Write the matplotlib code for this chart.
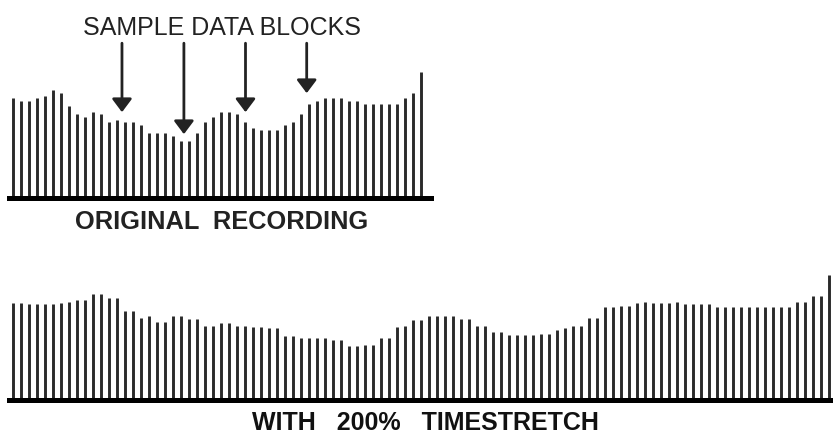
import numpy as np
import matplotlib.pyplot as plt

# bar heights (pixels above the baseline)
original_heights = [100, 97, 97, 100, 102.5, 108, 105, 92, 84, 81,
                    86.5, 84, 76, 78.5, 76, 76, 73, 65, 65, 65,
                    62.5, 57, 57, 65, 76, 81, 86.5, 86.5, 84, 76,
                    70.5, 68, 68, 68, 73, 76, 84, 94.5, 97, 100,
                    100, 100, 97, 97, 94.5, 94.5, 94.5, 94.5, 94.5, 100,
                    105, 126.5]

stretched_heights = [97.3, 97.3, 96, 96, 96, 96, 97.3, 98.6, 100, 100,
                     106.6, 106.6, 102.6, 102.6, 89.3, 89.3, 82.6, 84, 78.6, 78.6,
                     84.6, 84.6, 81.3, 81.3, 74.6, 74.6, 77.3, 77.3, 74.6, 74.6,
                     73.3, 73.3, 72, 72, 64, 64, 62, 62, 62, 62,
                     60, 60, 54, 54, 55.3, 55.3, 62, 62, 73.3, 74.6,
                     80, 80, 84, 84, 84, 84, 81.3, 81.3, 74.6, 74.6,
                     68, 68, 65.3, 65.3, 65.3, 65.3, 66, 66, 70.6, 72,
                     74.6, 74.6, 82.6, 82.6, 93.3, 93.3, 94.6, 94.6, 97.3, 98.6,
                     97.3, 97.3, 97.3, 98.6, 96, 96, 96, 96, 93.3, 93.3,
                     93.3, 93.3, 93.3, 93.3, 93.3, 93.3, 93.3, 93.3, 98.6, 98.6,
                     104, 104, 125.3]

# arrows: bar position (index units), tip height, tail height
arrow_x = [13.66, 21.4, 29.1, 36.75]
arrow_tip = [86, 64, 86, 105]
arrow_tail = 155

title_text = 'SAMPLE DATA BLOCKS'
top_label = 'ORIGINAL  RECORDING'
bottom_label = 'WITH   200%   TIMESTRETCH'

W, H = 833, 435
BAR_COLOR = '#2a2a2a'

plt.rcParams['font.family'] = ['Liberation Sans', 'DejaVu Sans']

fig = plt.figure(figsize=(W / 100, H / 100), dpi=100)


def make_panel(left_px, right_px, base_px, top_px, first_bar_px, heights):
    ax = fig.add_axes([left_px / W, (H - base_px) / H,
                       (right_px - left_px) / W, (base_px - top_px) / H])
    x = np.arange(len(heights))
    ax.vlines(x, 0, heights, colors=BAR_COLOR, linewidth=2.1)
    ax.set_xlim(-(first_bar_px - left_px) / 8, (right_px - first_bar_px) / 8)
    ax.set_ylim(0, base_px - top_px)
    for side in ['top', 'left', 'right']:
        ax.spines[side].set_visible(False)
    ax.spines['bottom'].set_linewidth(3.6)
    ax.spines['bottom'].set_color('black')
    ax.set_xticks([])
    ax.set_yticks([])
    ax.patch.set_alpha(0)
    return ax


ax_top = make_panel(9, 431, 199.2, 10, 12.7, original_heights)
ax_bot = make_panel(9, 833, 401.3, 260, 13.3, stretched_heights)

for xa, tip in zip(arrow_x, arrow_tip):
    ax_top.annotate('', xy=(xa, tip), xytext=(xa, arrow_tail),
                    arrowprops=dict(arrowstyle='-|>,head_length=0.8,head_width=0.6',
                                    lw=2.0, color='#222222',
                                    shrinkA=0, shrinkB=0),
                    annotation_clip=False)

fig.text(222 / W, 1 - 28 / H, title_text, ha='center', va='center',
         fontsize=18, color='#222222')
fig.text(221.7 / W, 1 - 222.5 / H, top_label, ha='center', va='center',
         fontsize=18.3, fontweight='bold', color='#222222')
fig.text(425.5 / W, 1 - 423 / H, bottom_label, ha='center', va='center',
         fontsize=18, fontweight='bold', color='#111111')

fig.savefig('out.png', dpi=100)
